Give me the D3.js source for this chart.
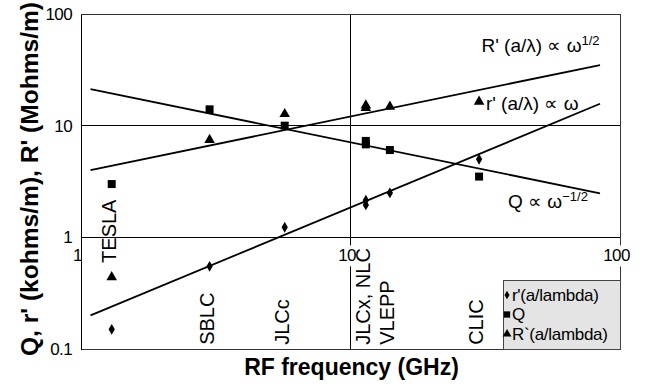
<!DOCTYPE html>
<html>
<head>
<meta charset="utf-8">
<script src="https://d3js.org/d3.v7.min.js"></script>
<style>
  body { margin: 0; background: #fff; }
  text { font-family: "Liberation Sans", Arial, Helvetica, sans-serif; fill: #000; }
</style>
</head>
<body>
<div class="result"></div>
<script>
// Machines and their RF frequency (GHz)
const machines = ['TESLA', 'SBLC', 'JLCc', 'JLCx, NLC', 'VLEPP', 'CLIC'];
const machineFreq = [1.3, 3.0, 5.7, 11.4, 14, 30];

// Data points (JLCx and NLC share 11.4 GHz)
const pointFreq = [1.3, 3.0, 5.7, 11.4, 11.4, 14, 30];
const rPrime = [0.15, 0.55, 1.23, 2.15, 1.95, 2.5, 5.0];     // r'(a/lambda), kohms/m
const qValues = [3.0, 14.0, 10.0, 7.3, 6.8, 6.05, 3.5];      // Q
const bigRPrime = [0.44, 7.45, 12.7, 15.2, 14.4, 14.8, 16.4]; // R'(a/lambda), Mohms/m

// Scaling-law lines, end points
const fitFreq = [1.085, 84.3];
const rFit = [0.20, 15.7];
const bigRFit = [4.0, 34.9];
const qFit = [21.2, 2.48];

// Tick values
const xTicks = [1, 10, 100];
const yTicks = [0.1, 1, 10, 100];

// Width and height
const w = 651;
const h = 387;
const margin = { left: 81, right: 31, top: 14, bottom: 38 };

const x = d3.scaleLog().domain([1, 100]).range([margin.left, w - margin.right]);
const y = d3.scaleLog().domain([0.1, 100]).range([h - margin.bottom, margin.top]);

const svg = d3.select('.result')
  .append('svg')
  .attr('width', w)
  .attr('height', h);

// Grid lines
svg.append('g')
  .selectAll('line.h')
  .data([1, 10])
  .enter()
  .append('line')
  .attr('x1', x(1)).attr('x2', x(100))
  .attr('y1', d => y(d)).attr('y2', d => y(d))
  .attr('stroke', '#000')
  .attr('shape-rendering', 'crispEdges');

svg.append('line')
  .attr('x1', x(10)).attr('x2', x(10))
  .attr('y1', y(0.1)).attr('y2', y(100))
  .attr('stroke', '#000')
  .attr('shape-rendering', 'crispEdges');

// Plot frame
svg.append('rect')
  .attr('x', x(1)).attr('y', y(100))
  .attr('width', x(100) - x(1)).attr('height', y(0.1) - y(100))
  .attr('fill', 'none')
  .attr('stroke', '#333')
  .attr('shape-rendering', 'crispEdges');

// Y axis
const yAxis = d3.axisLeft(y)
  .tickValues(yTicks)
  .tickFormat(d3.format('~g'))
  .tickSize(0)
  .tickPadding(9);

svg.append('g')
  .attr('class', 'y axis')
  .attr('transform', 'translate(' + x(1) + ',0)')
  .call(yAxis)
  .call(g => g.select('.domain').attr('stroke', '#000').attr('shape-rendering', 'crispEdges'))
  .call(g => g.selectAll('text').style('font-size', '17px').attr('letter-spacing', '-0.6'));

// X axis (crosses at y = 1), labels sit on white patches over the lines
const xAxis = d3.axisBottom(x)
  .tickValues(xTicks)
  .tickFormat(d3.format('~g'))
  .tickSize(0)
  .tickPadding(12);

const xg = svg.append('g')
  .attr('class', 'x axis')
  .attr('transform', 'translate(0,' + y(1) + ')')
  .call(xAxis);
xg.select('.domain').remove();
xg.selectAll('text')
  .style('font-size', '17px')
  .attr('letter-spacing', '-0.6')
  .attr('dx', -4);
xg.selectAll('.tick').each(function () {
  const t = d3.select(this).select('text');
  const b = t.node().getBBox();
  d3.select(this).insert('rect', 'text')
    .attr('x', b.x + (+t.attr('dx')) - 1).attr('y', b.y - 1)
    .attr('width', b.width + 2).attr('height', b.height + 2)
    .attr('fill', '#fff');
});

// Scaling-law lines
const line = d3.line()
  .x(d => x(d[0]))
  .y(d => y(d[1]));

[rFit, bigRFit, qFit].forEach(function (fit) {
  svg.append('path')
    .datum(fitFreq.map((f, i) => [f, fit[i]]))
    .attr('d', line)
    .attr('fill', 'none')
    .attr('stroke', '#000')
    .attr('stroke-width', 1.8);
});

// Data points
const series = [
  { values: rPrime, symbol: d3.symbolDiamond, size: 34 },
  { values: qValues, symbol: d3.symbolSquare, size: 64 },
  { values: bigRPrime, symbol: d3.symbolTriangle, size: 48 }
];

series.forEach(function (s) {
  svg.append('g')
    .selectAll('path')
    .data(pointFreq.map((f, i) => [f, s.values[i]]))
    .enter()
    .append('path')
    .attr('transform', d => 'translate(' + x(d[0]) + ',' + y(d[1]) + ')')
    .attr('d', d3.symbol().type(s.symbol).size(s.size))
    .attr('fill', '#000');
});

// Machine labels, vertical
svg.append('g')
  .selectAll('text')
  .data(machines)
  .enter()
  .append('text')
  .attr('transform', function (d, i) {
    const base = d === 'TESLA' ? y(0.59) : y(0.109);
    return 'translate(' + (x(machineFreq[i]) - 3) + ',' + base + ') rotate(-90)';
  })
  .attr('dy', '0.35em')
  .style('font-size', '20px')
  .text(d => d);

// Scaling-law annotations
const ann = svg.append('g').style('font-size', '19px');

const a1 = ann.append('text')
  .attr('x', x(84)).attr('y', y(45.7))
  .attr('text-anchor', 'end');
a1.append('tspan').text("R' (a/\u03bb) \u221d \u03c9");
a1.append('tspan').attr('dy', -7).style('font-size', '13px').text('1/2');

ann.append('text')
  .attr('x', x(31.8)).attr('y', y(13.8))
  .text("r' (a/\u03bb) \u221d \u03c9");

const a3 = ann.append('text')
  .attr('x', x(76)).attr('y', y(1.83))
  .attr('text-anchor', 'end');
a3.append('tspan').text('Q \u221d \u03c9');
a3.append('tspan').attr('dy', -7).style('font-size', '13px').text('\u22121/2');

// Legend
const legend = svg.append('g').attr('transform', 'translate(503,280)');
legend.append('rect')
  .attr('width', x(100) - 503).attr('height', y(0.1) - 280)
  .attr('fill', '#e4e4e4')
  .attr('stroke', '#444')
  .attr('shape-rendering', 'crispEdges');

const legendItems = [
  { label: "r'(a/lambda)", symbol: d3.symbolDiamond, size: 22 },
  { label: 'Q', symbol: d3.symbolSquare, size: 40 },
  { label: 'R`(a/lambda)', symbol: d3.symbolTriangle, size: 34 }
];

legendItems.forEach(function (d, i) {
  const ly = 15 + i * 19.5;
  legend.append('path')
    .attr('transform', 'translate(4,' + ly + ')')
    .attr('d', d3.symbol().type(d.symbol).size(d.size))
    .attr('fill', '#000');
  legend.append('text')
    .attr('x', 9).attr('y', ly)
    .attr('dy', '0.35em')
    .style('font-size', '17px')
    .attr('letter-spacing', '-0.3')
    .text(d.label);
});

// Axis titles
svg.append('text')
  .attr('x', (x(1) + x(100)) / 2 + 1)
  .attr('y', 375)
  .attr('text-anchor', 'middle')
  .style('font-size', '23px')
  .style('font-weight', 'bold')
  .text('RF frequency (GHz)');

svg.append('text')
  .attr('transform', 'translate(38,179) rotate(-90)')
  .attr('text-anchor', 'middle')
  .attr('textLength', 354)
  .attr('lengthAdjust', 'spacingAndGlyphs')
  .style('font-size', '23px')
  .style('font-weight', 'bold')
  .text("Q, r' (kohms/m), R' (Mohms/m)");
</script>
</body>
</html>
